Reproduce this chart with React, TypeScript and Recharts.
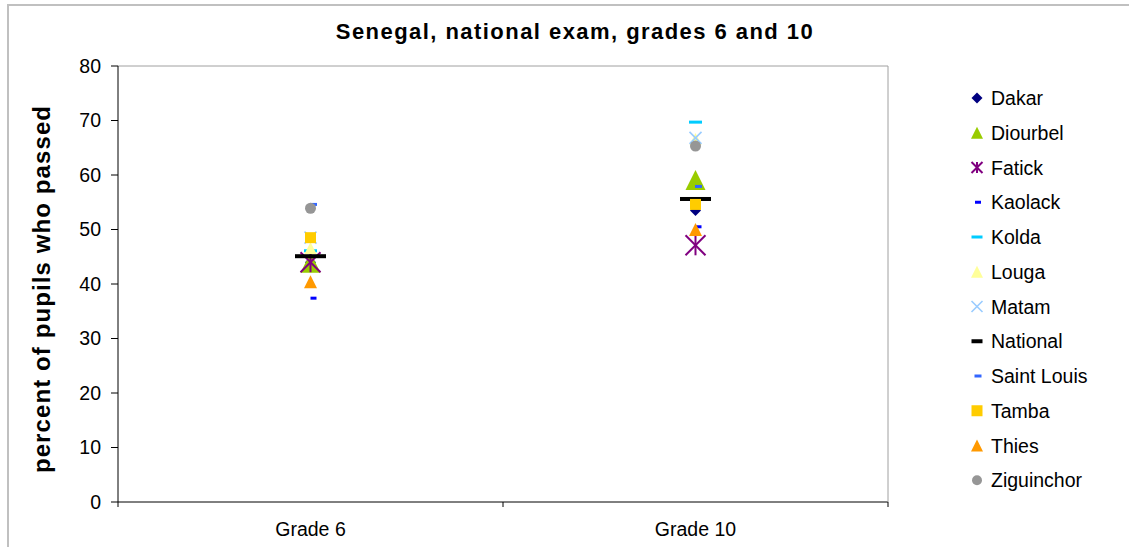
import React from 'react';
import { ComposedChart, Line, XAxis, YAxis } from 'recharts';

const grades = ['Grade 6', 'Grade 10'];
const dakar = [44.0, 53.5];
const diourbel = [43.9, 59.1];
const fatick = [44.0, 47.1];
const kaolack = [37.4, 50.5];
const kolda = [46.1, 69.7];
const louga = [46.6, 66.6];
const matam = [48.5, 66.8];
const national = [45.1, 55.6];
const saintLouis = [54.6, 57.9];
const tamba = [48.5, 54.6];
const thies = [40.4, 50.0];
const ziguinchor = [53.9, 65.3];
const yTicks = [0, 10, 20, 30, 40, 50, 60, 70, 80];
const xTicks = [0, 0.5, 1, 1.5, 2];

const FONT = '"Liberation Sans", Arial, sans-serif';

type Kind = 'diamond' | 'triangle' | 'star' | 'dash' | 'x' | 'square' | 'circle';
type SeriesDef = { name: string; values: number[]; color: string; kind: Kind; size: number; lsize: number; dx?: number; h?: number };

const series: SeriesDef[] = [
  { name: 'Dakar', values: dakar, color: '#000080', kind: 'diamond', size: 11, lsize: 11 },
  { name: 'Diourbel', values: diourbel, color: '#99cc00', kind: 'triangle', size: 20, lsize: 12 },
  { name: 'Fatick', values: fatick, color: '#800080', kind: 'star', size: 20, lsize: 11 },
  { name: 'Kaolack', values: kaolack, color: '#0000ff', kind: 'dash', size: 6, lsize: 6, dx: 3, h: 3 },
  { name: 'Kolda', values: kolda, color: '#00ccff', kind: 'dash', size: 13, lsize: 11, h: 3 },
  { name: 'Louga', values: louga, color: '#ffff99', kind: 'triangle', size: 12, lsize: 12 },
  { name: 'Matam', values: matam, color: '#99ccff', kind: 'x', size: 12, lsize: 11 },
  { name: 'National', values: national, color: '#000000', kind: 'dash', size: 31, lsize: 11, h: 4 },
  { name: 'Saint Louis', values: saintLouis, color: '#3366ff', kind: 'dash', size: 7, lsize: 7, dx: 3, h: 3 },
  { name: 'Tamba', values: tamba, color: '#ffcc00', kind: 'square', size: 11, lsize: 11 },
  { name: 'Thies', values: thies, color: '#ff9900', kind: 'triangle', size: 13, lsize: 12 },
  { name: 'Ziguinchor', values: ziguinchor, color: '#969696', kind: 'circle', size: 11, lsize: 10 },
];

const data = grades.map((g, i) => {
  const row: Record<string, number | string> = { x: i + 0.5, grade: g };
  series.forEach((s) => {
    row[s.name] = s.values[i];
  });
  return row;
});

function Marker({ kind, cx, cy, s, color, dx = 0, h = 3 }: { kind: Kind; cx: number; cy: number; s: number; color: string; dx?: number; h?: number }) {
  const r = s / 2;
  switch (kind) {
    case 'diamond':
      return <polygon points={`${cx},${cy - r} ${cx + r},${cy} ${cx},${cy + r} ${cx - r},${cy}`} fill={color} />;
    case 'triangle':
      return <polygon points={`${cx},${cy - r} ${cx + r},${cy + r} ${cx - r},${cy + r}`} fill={color} />;
    case 'star':
      return (
        <g stroke={color} strokeWidth={2}>
          <line x1={cx - r} y1={cy - r} x2={cx + r} y2={cy + r} />
          <line x1={cx - r} y1={cy + r} x2={cx + r} y2={cy - r} />
          <line x1={cx} y1={cy - r} x2={cx} y2={cy + r} />
        </g>
      );
    case 'x':
      return (
        <g stroke={color} strokeWidth={1.6}>
          <line x1={cx - r} y1={cy - r} x2={cx + r} y2={cy + r} />
          <line x1={cx - r} y1={cy + r} x2={cx + r} y2={cy - r} />
        </g>
      );
    case 'dash':
      return <rect x={cx - r + dx} y={cy - h / 2} width={s} height={h} fill={color} />;
    case 'square':
      return <rect x={cx - r} y={cy - r} width={s} height={s} fill={color} />;
    case 'circle':
    default:
      return <circle cx={cx} cy={cy} r={r} fill={color} />;
  }
}

function XTick(props: any) {
  const { x, y, payload } = props;
  const v: number = payload.value;
  if (Number.isInteger(v)) {
    return <line x1={x} y1={y} x2={x} y2={y + 5} stroke="#000" />;
  }
  return (
    <text x={x} y={y + 34} textAnchor="middle" fontSize={19.5} fontFamily={FONT} fill="#000">
      {grades[Math.floor(v)]}
    </text>
  );
}

const W = 1129;
const H = 547;

export default function App() {
  return (
    <div style={{ position: 'absolute', left: 0, top: 0, width: W, height: H, background: '#fff', fontFamily: FONT }}>
      <div
        style={{
          position: 'absolute',
          left: 7,
          top: 4,
          right: 0,
          bottom: 0,
          borderTop: '2px solid #c0c0c0',
          borderLeft: '2px solid #c0c0c0',
        }}
      />
      <div style={{ position: 'absolute', left: 0, top: 0 }}>
        <ComposedChart width={W} height={H} data={data} margin={{ top: 65, right: 240, bottom: 0, left: 0 }}>
          <XAxis
            xAxisId="bottom"
            dataKey="x"
            type="number"
            domain={[0, 2]}
            ticks={xTicks}
            interval={0}
            tick={<XTick />}
            tickSize={0}
            tickMargin={0}
            height={45}
            axisLine={{ stroke: '#000' }}
            tickLine={false}
          />
          <XAxis
            xAxisId="top"
            orientation="top"
            type="number"
            domain={[0, 2]}
            height={1}
            tick={false}
            tickLine={false}
            axisLine={{ stroke: '#a0a0a0' }}
          />
          <YAxis
            yAxisId="left"
            type="number"
            domain={[0, 80]}
            ticks={yTicks}
            width={118}
            tickSize={7}
            tickMargin={10}
            axisLine={{ stroke: '#000' }}
            tickLine={{ stroke: '#000' }}
            tick={{ fontSize: 19.5, fill: '#000', fontFamily: FONT }}
            interval={0}
          />
          <YAxis
            yAxisId="right"
            orientation="right"
            type="number"
            domain={[0, 80]}
            width={1}
            tick={false}
            tickLine={false}
            axisLine={{ stroke: '#a0a0a0' }}
          />
          {series.map((s) => (
            <Line
              key={s.name}
              xAxisId="bottom"
              yAxisId="left"
              dataKey={s.name}
              stroke="none"
              isAnimationActive={false}
              activeDot={false}
              legendType="none"
              dot={(p: any) => (
                <Marker key={`${s.name}-${p.index}`} kind={s.kind} cx={p.cx} cy={p.cy} s={s.size} color={s.color} dx={s.dx} h={s.h} />
              )}
            />
          ))}
        </ComposedChart>
      </div>
      <svg width={W} height={H} style={{ position: 'absolute', left: 0, top: 0, pointerEvents: 'none' }}>
        <text x={575} y={39} textAnchor="middle" fontSize={22} fontWeight="bold" fontFamily={FONT} letterSpacing={1.45} fill="#000">
          Senegal, national exam, grades 6 and 10
        </text>
        <text
          x={50}
          y={289}
          transform="rotate(-90 50 289)"
          textAnchor="middle"
          fontSize={24}
          fontWeight="bold"
          fontFamily={FONT}
          letterSpacing={1.1}
          fill="#000"
        >
          percent of pupils who passed
        </text>
        {series.map((s, i) => {
          const cy = 98 + i * 34.75;
          return (
            <g key={s.name}>
              <Marker kind={s.kind} cx={977} cy={cy} s={s.lsize} color={s.color} dx={s.dx ? 1 : 0} h={s.h} />
              <text x={991} y={cy + 7} fontSize={19.5} fontFamily={FONT} fill="#000">
                {s.name}
              </text>
            </g>
          );
        })}
      </svg>
    </div>
  );
}
